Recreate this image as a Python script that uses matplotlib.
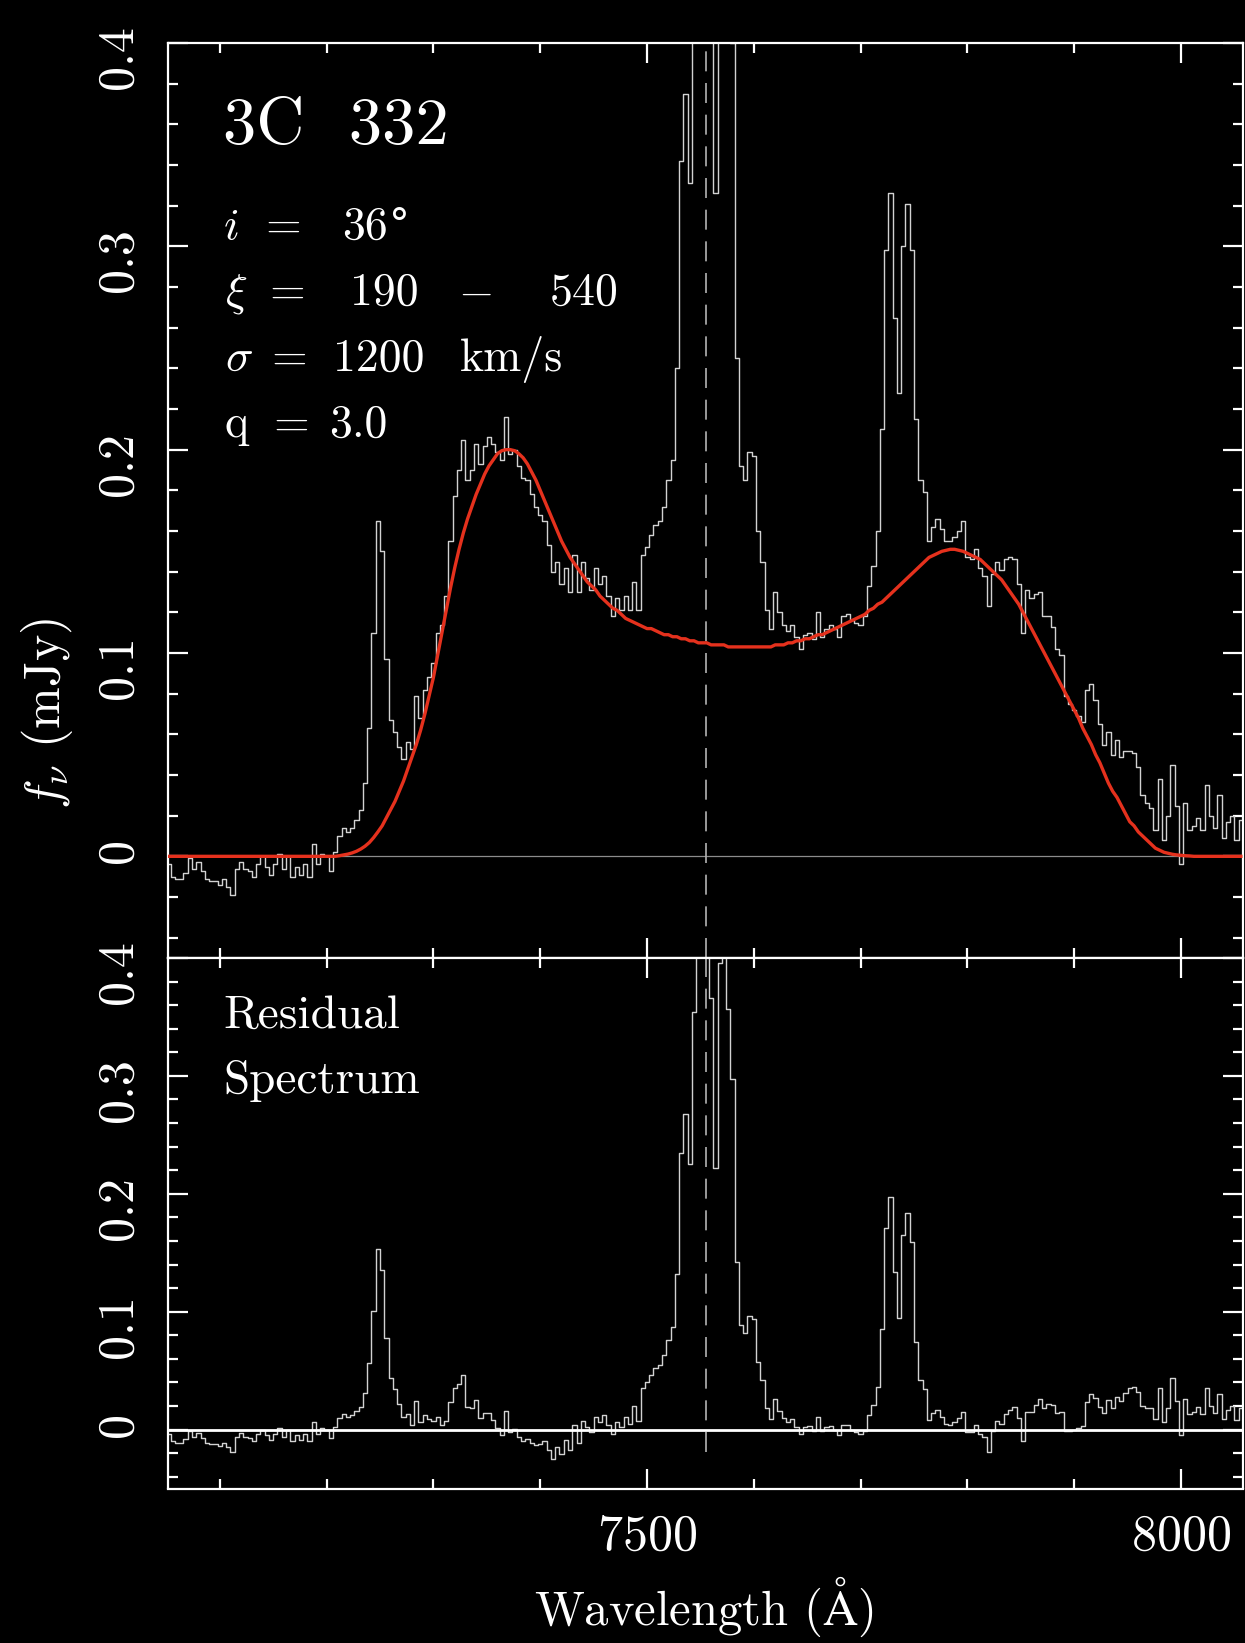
"""
plot.py

Disk-profile fit to the broad H-alpha line of 3C 332: binned spectrum with the
model overlaid (top) and the residual spectrum after subtracting the model (bottom).
"""

import numpy as np
import matplotlib.pyplot as plt
from matplotlib.ticker import MultipleLocator, FuncFormatter

plt.rcParams['font.family'] = ['cmr10', 'DejaVu Serif']
plt.rcParams['mathtext.fontset'] = 'cm'
plt.rcParams['axes.formatter.use_mathtext'] = True


# ================================
# Data
# ================================

# bin centres of the spectrum (Angstrom), 4 A bins
wave = np.arange(7052, 8057, 4)

# observed flux density (mJy)
flux = np.array([
    -0.004, -0.010, -0.011, -0.011, -0.008, -0.001, -0.006, -0.003, -0.007, -0.011,
    -0.012, -0.012, -0.014, -0.011, -0.015, -0.019, -0.006, -0.003, -0.006, -0.007,
    -0.010, -0.004, 0.000, -0.005, -0.009, -0.004, 0.001, -0.006, 0.000, -0.010,
    -0.005, -0.009, -0.004, -0.010, 0.006, -0.004, 0.001, 0.000, -0.007, 0.002,
    0.010, 0.014, 0.012, 0.014, 0.018, 0.023, 0.036, 0.063, 0.110, 0.165,
    0.150, 0.097, 0.067, 0.061, 0.054, 0.048, 0.056, 0.053, 0.079, 0.068,
    0.082, 0.088, 0.095, 0.110, 0.114, 0.128, 0.155, 0.177, 0.190, 0.205,
    0.185, 0.190, 0.203, 0.193, 0.202, 0.206, 0.203, 0.199, 0.195, 0.216,
    0.198, 0.200, 0.192, 0.186, 0.185, 0.178, 0.172, 0.168, 0.165, 0.153,
    0.140, 0.145, 0.134, 0.142, 0.130, 0.148, 0.130, 0.145, 0.137, 0.131,
    0.142, 0.134, 0.138, 0.128, 0.118, 0.127, 0.121, 0.128, 0.121, 0.135,
    0.121, 0.148, 0.152, 0.158, 0.163, 0.165, 0.172, 0.185, 0.195, 0.240,
    0.342, 0.375, 0.331, 0.460, 0.560, 0.620, 0.580, 0.470, 0.326, 0.500,
    0.520, 0.460, 0.400, 0.245, 0.192, 0.185, 0.199, 0.197, 0.160, 0.145,
    0.121, 0.112, 0.130, 0.120, 0.114, 0.111, 0.114, 0.108, 0.102, 0.109,
    0.110, 0.107, 0.120, 0.108, 0.112, 0.114, 0.112, 0.108, 0.118, 0.119,
    0.116, 0.115, 0.114, 0.118, 0.133, 0.143, 0.160, 0.210, 0.298, 0.326,
    0.265, 0.228, 0.300, 0.321, 0.298, 0.215, 0.185, 0.179, 0.155, 0.162,
    0.166, 0.161, 0.155, 0.155, 0.157, 0.160, 0.165, 0.147, 0.146, 0.151,
    0.142, 0.138, 0.123, 0.139, 0.145, 0.141, 0.146, 0.147, 0.146, 0.134,
    0.110, 0.131, 0.127, 0.129, 0.130, 0.118, 0.118, 0.113, 0.102, 0.099,
    0.079, 0.075, 0.072, 0.069, 0.066, 0.082, 0.085, 0.077, 0.065, 0.055,
    0.061, 0.050, 0.057, 0.049, 0.052, 0.052, 0.051, 0.044, 0.030, 0.026,
    0.024, 0.013, 0.038, 0.008, 0.020, 0.045, 0.025, -0.004, 0.026, 0.013,
    0.015, 0.019, 0.013, 0.035, 0.020, 0.014, 0.030, 0.009, 0.017, 0.020,
    0.008, 0.018,
])

# disk model evaluated at the same bins (mJy)
model = np.array([
    0, 0, 0, 0, 0, 0, 0, 0, 0, 0,
    0, 0, 0, 0, 0, 0, 0, 0, 0, 0,
    0, 0, 0, 0, 0, 0, 0, 0, 0, 0,
    0, 0, 0, 0, 0, 0, 0, 0, 0, 0,
    0.0003, 0.0007, 0.0011, 0.0017, 0.0025, 0.0036, 0.0050, 0.0068, 0.0092, 0.012,
    0.015, 0.019, 0.023, 0.027, 0.032, 0.037, 0.043, 0.049, 0.055, 0.062,
    0.070, 0.079, 0.088, 0.099, 0.110, 0.121, 0.132, 0.142, 0.151, 0.159,
    0.166, 0.172, 0.178, 0.183, 0.188, 0.192, 0.195, 0.198, 0.1995, 0.200,
    0.200, 0.1995, 0.198, 0.196, 0.193, 0.189, 0.185, 0.180, 0.175, 0.170,
    0.165, 0.160, 0.155, 0.151, 0.147, 0.144, 0.141, 0.138, 0.135, 0.133,
    0.131, 0.128, 0.126, 0.124, 0.122, 0.121, 0.119, 0.117, 0.116, 0.115,
    0.114, 0.113, 0.112, 0.112, 0.111, 0.110, 0.109, 0.109, 0.108, 0.108,
    0.107, 0.107, 0.106, 0.106, 0.105, 0.105, 0.105, 0.104, 0.104, 0.104,
    0.104, 0.103, 0.103, 0.103, 0.103, 0.103, 0.103, 0.103, 0.103, 0.103,
    0.103, 0.103, 0.104, 0.104, 0.104, 0.105, 0.105, 0.106, 0.106, 0.107,
    0.107, 0.108, 0.109, 0.109, 0.110, 0.111, 0.112, 0.113, 0.114, 0.115,
    0.116, 0.117, 0.118, 0.119, 0.121, 0.122, 0.124, 0.125, 0.127, 0.129,
    0.131, 0.133, 0.135, 0.137, 0.139, 0.141, 0.143, 0.145, 0.147, 0.148,
    0.149, 0.150, 0.1505, 0.151, 0.151, 0.1505, 0.150, 0.149, 0.148, 0.147,
    0.146, 0.144, 0.142, 0.140, 0.138, 0.136, 0.133, 0.130, 0.127, 0.124,
    0.120, 0.116, 0.112, 0.108, 0.104, 0.100, 0.096, 0.092, 0.088, 0.084,
    0.080, 0.076, 0.072, 0.068, 0.063, 0.059, 0.055, 0.050, 0.046, 0.041,
    0.036, 0.032, 0.029, 0.025, 0.021, 0.017, 0.015, 0.012, 0.010, 0.008,
    0.006, 0.004, 0.003, 0.002, 0.0015, 0.001, 0.0007, 0.0005, 0.0003, 0.0002,
    0, 0, 0, 0, 0, 0, 0, 0, 0, 0,
    0, 0,
])

residual = flux - model

# redshifted H-alpha
line_center = 7555

# fit parameters printed on the plot
object_name = '3C  332'
param_lines = [
    [(223, r'$i$'), (265, '='), (342, '36')],
    [(225, r'$\xi$'), (269, '='), (350, '190'), (458, r'$-$'), (550, '540')],
    [(225, r'$\sigma$'), (271, '='), (333, '1200'), (460, 'km/s')],
    [(225, 'q'), (273, '='), (329, '3.0')],
]


# ================================
# Figure
# ================================

W, H = 1245, 1643
fig = plt.figure(figsize=(W / 100, H / 100), dpi=100, facecolor='black')

ax_top = fig.add_axes([168 / W, 1 - 958 / H, 1075 / W, 915 / H])
ax_bot = fig.add_axes([168 / W, 1 - 1488.5 / H, 1075 / W, 530.5 / H])


def tick_label(v, pos):
    if abs(v) < 1e-9:
        return '0'
    return f'{v:.1f}'


def style_axes(ax):
    """Black panel with white frame and inward ticks on all sides."""
    ax.set_facecolor('black')
    for s in ax.spines.values():
        s.set_color('white')
        s.set_linewidth(1.6)
    ax.set_xlim(7051.5, 8058)
    ax.set_ylim(-0.05, 0.4)
    ax.xaxis.set_major_locator(MultipleLocator(500))
    ax.xaxis.set_minor_locator(MultipleLocator(100))
    ax.yaxis.set_major_locator(MultipleLocator(0.1))
    ax.yaxis.set_minor_locator(MultipleLocator(0.02))
    ax.yaxis.set_major_formatter(FuncFormatter(tick_label))
    ax.tick_params(which='both', direction='in', top=True, right=True,
                   colors='white', width=1.6)
    ax.tick_params(which='major', length=14.4)
    ax.tick_params(which='minor', length=7.2)
    ax.tick_params(axis='y', labelrotation=90, pad=19, labelsize=36)
    ax.tick_params(axis='x', pad=18, labelsize=36)


style_axes(ax_top)
style_axes(ax_bot)
ax_top.tick_params(labelbottom=False)

# top: spectrum + model
ax_top.axhline(0, color='#8c8c8c', lw=0.9, zorder=1)
ax_top.axvline(line_center, color='#b4b4b4', lw=1.2, ls=(0, (12, 7)), zorder=1)
ax_top.step(wave, flux, where='mid', color='#d2d2d2', lw=1.0, zorder=2)
ax_top.plot(wave, model, color='#e5311d', lw=2.4, zorder=3,
            solid_joinstyle='round')

# bottom: residual
ax_bot.axvline(line_center, ymin=0.069, color='#b4b4b4', lw=1.2,
               ls=(0, (12, 7)), zorder=1)
ax_bot.step(wave, residual, where='mid', color='#d2d2d2', lw=1.0, zorder=2)
ax_bot.axhline(0, color='white', lw=2.0, zorder=3)


# ================================
# Text
# ================================

def put(x, y, s, size, **kw):
    fig.text(x / W, 1 - y / H, s, fontsize=size, color='white',
             va='baseline', **kw)


put(223, 144, object_name, 48)
for row, baseline in zip(param_lines, [239, 305, 371, 437]):
    for x, s in row:
        put(x, baseline, s, 33)
# degree sign (not in the cmr10 glyph set)
put(389, 239, '°', 30, family='DejaVu Serif')

put(223, 1028, 'Residual', 34)
put(223, 1093, 'Spectrum', 34)

fig.text(47 / W, 1 - 713 / H, r'$f_\nu$ (mJy)', rotation=90, fontsize=36,
         color='white', ha='center', va='center')
fig.text(704 / W, 1 - 1607 / H, r'Wavelength ($\mathrm{\AA}$)', fontsize=35,
         color='white', ha='center', va='center')

fig.savefig('out.png', dpi=100, facecolor='black')
